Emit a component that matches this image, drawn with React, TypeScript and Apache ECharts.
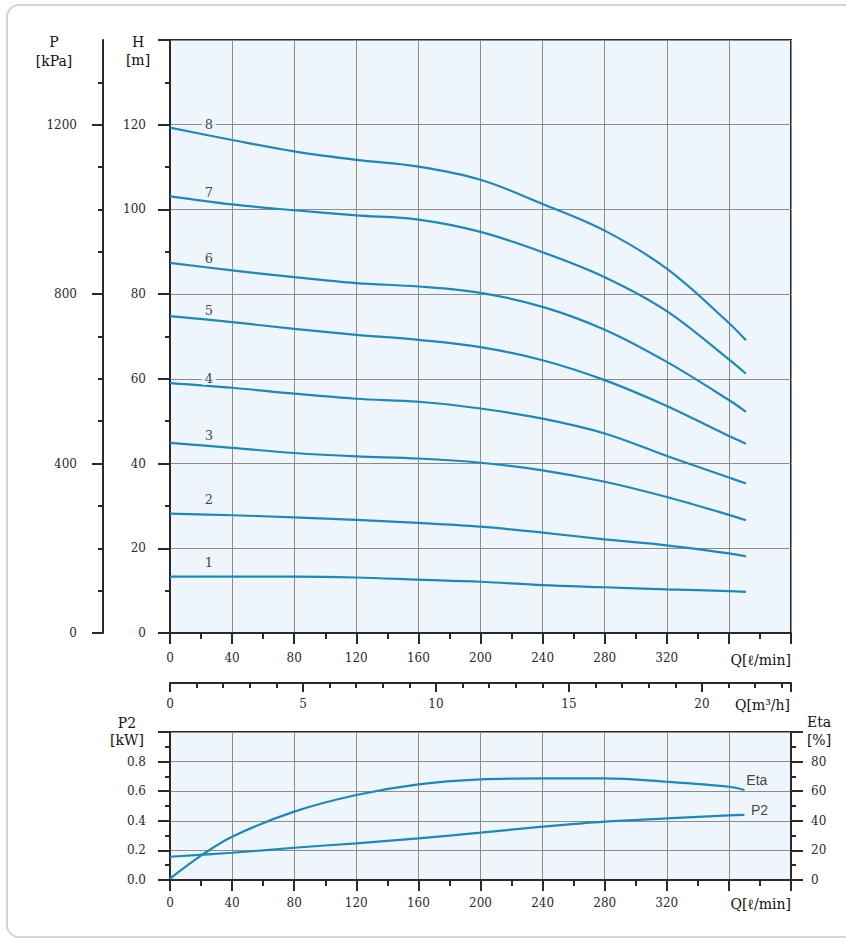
import React, { useEffect, useRef } from "react";
import * as echarts from "echarts";

// ---- data (Q in l/min) ----
const qH = [0, 40, 80, 120, 160, 200, 240, 280, 320, 360, 371];
const h1 = [13.3, 13.3, 13.3, 13.1, 12.6, 12.1, 11.3, 10.8, 10.3, 9.9, 9.7];
const h2 = [28.2, 27.8, 27.3, 26.7, 26.0, 25.1, 23.7, 22.1, 20.7, 18.8, 18.1];
const h3 = [44.9, 43.7, 42.5, 41.7, 41.2, 40.2, 38.4, 35.7, 32.1, 27.9, 26.6];
const h4 = [59.0, 57.9, 56.5, 55.3, 54.6, 53.0, 50.6, 47.1, 41.8, 36.7, 35.3];
const h5 = [74.8, 73.4, 71.8, 70.4, 69.2, 67.5, 64.4, 59.7, 53.6, 46.5, 44.7];
const h6 = [87.4, 85.6, 84.0, 82.6, 81.8, 80.3, 77.0, 71.6, 64.0, 55.0, 52.2];
const h7 = [103.1, 101.2, 99.8, 98.6, 97.6, 94.7, 89.9, 84.0, 76.0, 64.6, 61.2];
const h8 = [119.3, 116.4, 113.7, 111.7, 110.1, 107.0, 101.3, 95.0, 86.0, 73.2, 69.1];
const hCurves = [h1, h2, h3, h4, h5, h6, h7, h8];
const curveNames = ["1", "2", "3", "4", "5", "6", "7", "8"];
const curveLabelQ = [25, 25, 25, 25, 25, 25, 25, 25];
const curveLabelH = [16.7, 31.4, 46.7, 60.1, 76.2, 88.4, 104, 120];

const qEta = [0, 20, 40, 80, 120, 160, 200, 240, 280, 320, 360, 370];
const eta = [1, 16.5, 29.3, 46.2, 57.4, 64.6, 68, 68.7, 68.7, 66.4, 63, 60.8];
const qP2 = [0, 40, 80, 120, 160, 200, 240, 280, 320, 360, 370];
const p2 = [0.157, 0.184, 0.218, 0.248, 0.281, 0.32, 0.36, 0.394, 0.416, 0.437, 0.44];

const pMinorTicks = [0, 100, 200, 300, 400, 500, 600, 700, 800, 900, 1000, 1100, 1200, 1300];
const pMajorTicks = [0, 400, 800, 1200];

const SERIF = '"DejaVu Serif", serif';
const SANS = '"Liberation Sans", Arial, sans-serif';
const LINE = "#1e88bd";
const AX = "#2a2a2a";
const GRIDC = "#8c8c8c";
const BG = "#eef6fc";

export default function App() {
  const ref = useRef<HTMLDivElement>(null);
  useEffect(() => {
    if (!ref.current) return;
    const chart = echarts.init(ref.current, undefined, { renderer: "svg" });

    const lbl = (margin: number, extra: any = {}) => ({
      fontFamily: SERIF,
      fontSize: 12,
      color: AX,
      margin,
      ...extra,
    });
    const axLine = { show: true, onZero: false, lineStyle: { color: AX, width: 2 } };

    const lineBase = {
      type: "line",
      smooth: 0.35,
      showSymbol: false,
      lineStyle: { color: LINE, width: 2.2 },
      z: 3,
    };

    const series: any[] = hCurves.map((h, k) => ({
      ...lineBase,
      name: "H" + curveNames[k],
      xAxisIndex: 0,
      yAxisIndex: 0,
      data: qH.map((q, i) => [q, h[i]]),
    }));
    series.push({
      type: "scatter",
      xAxisIndex: 0,
      yAxisIndex: 0,
      symbolSize: 0,
      z: 4,
      label: {
        show: true,
        position: "inside",
        formatter: (p: any) => p.data.name,
        fontFamily: SERIF,
        fontSize: 13,
        color: "#111",
        backgroundColor: BG,
        padding: [0, 3],
      },
      data: curveNames.map((n, i) => ({ name: n, value: [curveLabelQ[i], curveLabelH[i]] })),
    });
    series.push({
      ...lineBase,
      name: "Eta",
      xAxisIndex: 2,
      yAxisIndex: 4,
      data: qEta.map((q, i) => [q, eta[i]]),
    });
    series.push({
      ...lineBase,
      name: "P2",
      xAxisIndex: 2,
      yAxisIndex: 3,
      data: qP2.map((q, i) => [q, p2[i]]),
    });
    series.push({
      type: "scatter",
      xAxisIndex: 2,
      yAxisIndex: 4,
      symbolSize: 0,
      label: { show: true, position: "right", distance: 5, formatter: "Eta", fontFamily: SANS, fontSize: 14, color: "#111" },
      data: [[368, 67.6]],
    });
    series.push({
      type: "scatter",
      xAxisIndex: 2,
      yAxisIndex: 3,
      symbolSize: 0,
      label: { show: true, position: "right", distance: 5, formatter: "P2", fontFamily: SANS, fontSize: 14, color: "#111" },
      data: [[371, 0.473]],
    });

    const txt = (text: string, x: number, y: number, align = "center", size = 13, family = SERIF) => ({
      type: "text",
      x,
      y,
      style: {
        text,
        font: `${size}px ${family}`,
        fill: "#111",
        textAlign: align,
        textVerticalAlign: "middle",
      },
      z: 10,
    });

    const tickStyle = { color: AX, width: 2 };

    chart.setOption({
      animation: false,
      backgroundColor: "#fff",
      grid: [
        { left: 170, top: 40, width: 621, height: 593, show: true, backgroundColor: BG, borderColor: AX, borderWidth: 2 },
        { left: 170, top: 732, width: 621, height: 148, show: true, backgroundColor: BG, borderColor: AX, borderWidth: 2 },
      ],
      xAxis: [
        {
          type: "value",
          gridIndex: 0,
          min: 0,
          max: 400,
          interval: 40,
          position: "bottom",
          axisLine: axLine,
          axisTick: { show: true, length: 11, lineStyle: tickStyle },
          minorTick: { show: true, splitNumber: 2, length: 6, lineStyle: tickStyle },
          splitLine: { show: true, lineStyle: { color: GRIDC, width: 1 } },
          axisLabel: lbl(19, { formatter: (v: number) => (v >= 360 ? "" : String(v)) }),
        },
        {
          type: "value",
          gridIndex: 0,
          min: 0,
          max: 23.35,
          interval: 5,
          position: "bottom",
          offset: 50,
          axisLine: axLine,
          axisTick: { show: true, length: 9, lineStyle: tickStyle },
          minorTick: { show: true, splitNumber: 5, length: 5, lineStyle: tickStyle },
          splitLine: { show: false },
          axisLabel: lbl(15, { showMaxLabel: false, formatter: (v: number) => (v > 20 ? "" : String(v)) }),
        },
        {
          type: "value",
          gridIndex: 1,
          min: 0,
          max: 400,
          interval: 40,
          position: "bottom",
          axisLine: axLine,
          axisTick: { show: true, length: 11, lineStyle: tickStyle },
          minorTick: { show: true, splitNumber: 2, length: 6, lineStyle: tickStyle },
          splitLine: { show: true, lineStyle: { color: GRIDC, width: 1 } },
          axisLabel: lbl(17, { formatter: (v: number) => (v >= 360 ? "" : String(v)) }),
        },
      ],
      yAxis: [
        {
          type: "value",
          gridIndex: 0,
          min: 0,
          max: 140,
          interval: 20,
          position: "left",
          axisLine: axLine,
          axisTick: { show: true, length: 12, lineStyle: tickStyle },
          minorTick: { show: true, splitNumber: 2, length: 5, lineStyle: tickStyle },
          splitLine: { show: true, lineStyle: { color: GRIDC, width: 1 } },
          axisLabel: lbl(24, { showMaxLabel: false, formatter: (v: number) => (v >= 140 ? "" : String(v)) }),
        },
        {
          type: "value",
          gridIndex: 0,
          min: 0,
          max: 1400,
          interval: 100,
          position: "left",
          offset: 67,
          axisLine: axLine,
          axisTick: { show: true, length: 5, customValues: pMinorTicks, lineStyle: tickStyle },
          splitLine: { show: false },
          axisLabel: { show: false },
        },
        {
          type: "value",
          gridIndex: 0,
          min: 0,
          max: 1400,
          interval: 400,
          position: "left",
          offset: 67,
          axisLine: { show: false, onZero: false },
          axisTick: { show: true, length: 11, customValues: pMajorTicks, lineStyle: tickStyle },
          splitLine: { show: false },
          axisLabel: lbl(26, { customValues: pMajorTicks, formatter: (v: number) => String(v) }),
        },
        {
          type: "value",
          gridIndex: 1,
          min: 0,
          max: 1,
          interval: 0.2,
          position: "left",
          axisLine: axLine,
          axisTick: { show: true, length: 12, lineStyle: tickStyle },
          minorTick: { show: true, splitNumber: 2, length: 5, lineStyle: tickStyle },
          splitLine: { show: true, lineStyle: { color: GRIDC, width: 1 } },
          axisLabel: lbl(24, { showMaxLabel: false, formatter: (v: number) => (v >= 1 ? "" : v.toFixed(1)) }),
        },
        {
          type: "value",
          gridIndex: 1,
          min: 0,
          max: 100,
          interval: 20,
          position: "right",
          axisLine: axLine,
          axisTick: { show: true, length: 12, lineStyle: tickStyle },
          minorTick: { show: true, splitNumber: 2, length: 5, lineStyle: tickStyle },
          splitLine: { show: false },
          axisLabel: lbl(20, { showMaxLabel: false, formatter: (v: number) => (v >= 100 ? "" : String(v)) }),
        },
      ],
      graphic: [
        {
          type: "rect",
          shape: { x: 7, y: 5, width: 850, height: 932, r: 12 },
          style: { fill: "none", stroke: "#d4d4d4", lineWidth: 2 },
          z: -1,
          silent: true,
        },
        txt("P", 54, 42, "center", 14),
        txt("[kPa]", 54, 61, "center", 14),
        txt("H", 138, 42, "center", 14),
        txt("[m]", 138, 60, "center", 14),
        txt("Q[ℓ/min]", 791, 660, "right", 14),
        txt("Q[m³/h]", 790, 705, "right", 14),
        txt("P2", 127, 723, "center", 14),
        txt("[kW]", 127, 740, "center", 14),
        txt("Eta", 819, 722, "center", 14),
        txt("[%]", 819, 740, "center", 14),
        txt("Q[ℓ/min]", 791, 904, "right", 14),
      ],
      series,
    });
    return () => chart.dispose();
  }, []);
  return <div ref={ref} style={{ position: "fixed", left: 0, top: 0, width: 846, height: 939 }} />;
}
